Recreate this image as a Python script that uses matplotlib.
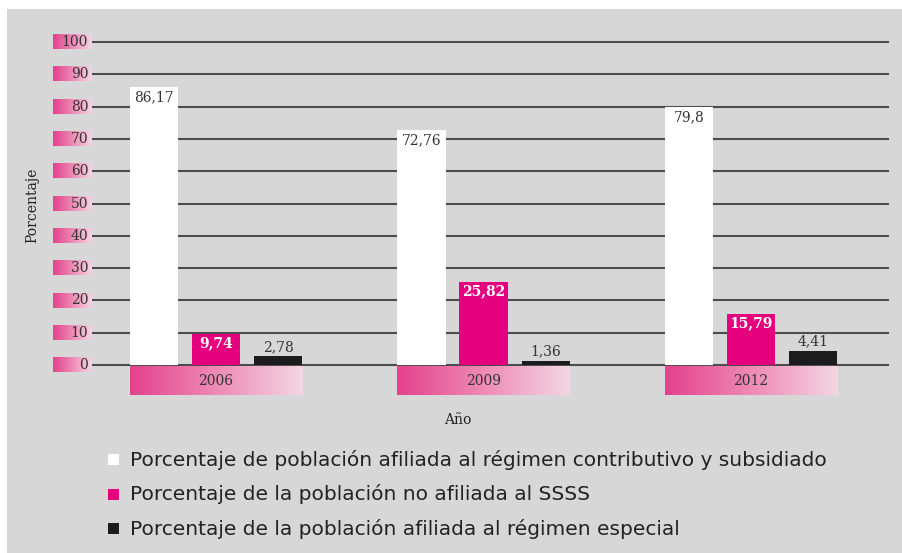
import matplotlib.pyplot as plt
import numpy as np
from matplotlib.colors import LinearSegmentedColormap

years = ['2006', '2009', '2012']
afiliada = [86.17, 72.76, 79.8]
no_afiliada = [9.74, 25.82, 15.79]
especial = [2.78, 1.36, 4.41]
yticks = [0, 10, 20, 30, 40, 50, 60, 70, 80, 90, 100]
legend_labels = ['Porcentaje de población afiliada al régimen contributivo y subsidiado',
                 'Porcentaje de la población no afiliada al SSSS',
                 'Porcentaje de la población afiliada al régimen especial']

def fmt(v):
    return ('%g' % v).replace('.', ',')

gris = '#d7d7d7'
rosa = '#e5007e'
negro = '#1c1c1c'
grad = LinearSegmentedColormap.from_list('g', ['#e4418c', '#ee8ab5', '#f4d6e3'])
serif = 'DejaVu Serif'

fig = plt.figure(figsize=(9.02, 5.53), dpi=100)
fig.patch.set_facecolor('white')
fig.patches.append(plt.Rectangle((7 / 902, 0), 1, 1 - 9 / 553, transform=fig.transFigure,
                                 facecolor=gris, edgecolor='none', zorder=-5))

ax = fig.add_axes([92 / 902, 188 / 553, 796 / 902, 323 / 553])
ax.set_facecolor('none')
for s in ax.spines.values():
    s.set_visible(False)
ax.set_xticks([])
ax.set_yticks([])

for t in yticks:
    ax.axhline(t, color='#4d4d4d', lw=1.5, zorder=1, clip_on=False)

x = np.arange(len(years))
w = 0.18
off = 0.232
ax.bar(x - off, afiliada, w, color='white', zorder=2)
ax.bar(x, no_afiliada, w, color=rosa, zorder=2)
ax.bar(x + off, especial, w, color=negro, zorder=2)

g = np.linspace(0, 1, 256).reshape(1, -1)
for i, yr in enumerate(years):
    ax.text(x[i] - off, afiliada[i] - 3.2, fmt(afiliada[i]), ha='center', va='center',
            fontsize=10, family=serif, color='#333333', zorder=3)
    ax.text(x[i], no_afiliada[i] - 2.9, fmt(no_afiliada[i]), ha='center', va='center',
            fontsize=10, family=serif, color='white', weight='bold', zorder=3)
    ax.text(x[i] + off, especial[i] + 2.8, fmt(especial[i]), ha='center', va='center',
            fontsize=10, family=serif, color='#333333', zorder=3)
    x0 = x[i] - off - w / 2
    x1 = x[i] + off + w / 2
    ax.imshow(g, cmap=grad, aspect='auto', extent=(x0, x1, -9.3, -0.6),
              clip_on=False, zorder=2)
    ax.text(x[i], -5, yr, ha='center', va='center', fontsize=10, family=serif,
            color='#333333', zorder=3)

for t in yticks:
    ax.imshow(g, cmap=grad, aspect='auto', extent=(-0.609, -0.4636, t - 2.2, t + 2.2),
              clip_on=False, zorder=2)
    ax.text(-0.478, t, str(t), ha='right', va='center', fontsize=10, family=serif,
            color='#333333', zorder=3)

ax.set_xlim(-0.4636, 2.512)
ax.set_ylim(0, 100)

fig.text(32 / 902, 1 - 205 / 553, 'Porcentaje', rotation=90, ha='center', va='center',
         fontsize=10, family=serif, color='#222222')
fig.text(458 / 902, 1 - 420 / 553, 'Año', ha='center', va='center',
         fontsize=10, family=serif, color='#222222')

colores = ['white', rosa, negro]
for k, (lab, c) in enumerate(zip(legend_labels, colores)):
    yy = 460 + 34.5 * k
    fig.patches.append(plt.Rectangle((108 / 902, 1 - (yy + 5) / 553), 11 / 902, 11 / 553,
                                     transform=fig.transFigure, facecolor=c, edgecolor='none'))
    fig.text(130 / 902, 1 - yy / 553, lab, ha='left', va='center', fontsize=14.5,
             family='DejaVu Sans', color='#222222')

plt.savefig('out.png', dpi=100)
